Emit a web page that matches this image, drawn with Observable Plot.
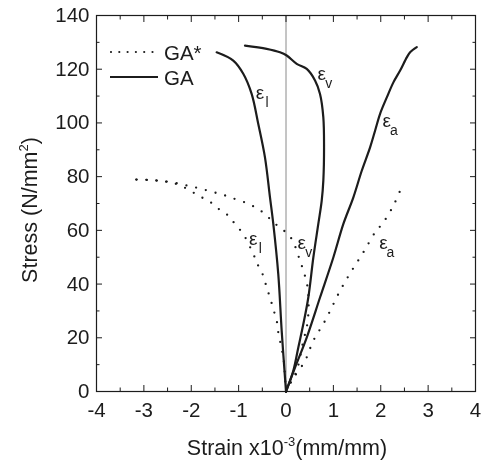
<!DOCTYPE html>
<html>
<head>
<meta charset="utf-8">
<script src="https://cdn.jsdelivr.net/npm/d3@7"></script>
<script src="https://cdn.jsdelivr.net/npm/@observablehq/plot@0.6"></script>
<style>
  html, body { margin: 0; padding: 0; background: #fff; }
  svg { display: block; will-change: transform; }
  text { -webkit-font-smoothing: antialiased; }
</style>
</head>
<body>
<div id="chart"></div>
<script>
// ---- tick labels ----
const xTicks = [-4, -3, -2, -1, 0, 1, 2, 3, 4];
const xMinor = [-3.5, -2.5, -1.5, -0.5, 0.5, 1.5, 2.5, 3.5];
const yTicks = [0, 20, 40, 60, 80, 100, 120, 140];
const yMinor = [10, 30, 50, 70, 90, 110, 130];

// ---- series: [strain x10^-3, stress N/mm^2] ----
// GA (solid)
const gaLateral = [[0,0],[-0.091,22.6],[-0.163,43.7],[-0.268,62.4],[-0.338,72.3],[-0.444,87.2],[-0.585,99.6],[-0.725,110.8],[-0.902,118.3],[-1.113,123.2],[-1.464,126.3]];
const gaVolumetric = [[0,0],[0.154,7.7],[0.260,16.4],[0.366,25.1],[0.471,35.0],[0.577,49.9],[0.682,62.4],[0.754,71.1],[0.788,78.5],[0.803,90.9],[0.788,102.1],[0.718,110.8],[0.613,115.8],[0.438,120.1],[0.226,122.0],[0.015,125.1],[-0.127,126.3],[-0.408,127.6],[-0.866,128.8]];
const gaAxial = [[0,0],[0.190,8.9],[0.437,20.1],[0.718,35.0],[0.999,49.9],[1.211,62.4],[1.422,72.3],[1.599,82.2],[1.775,90.9],[1.880,97.1],[1.986,103.4],[2.128,109.5],[2.267,115.1],[2.409,119.5],[2.550,124.4],[2.620,126.3],[2.761,128.2]];
// GA* (dotted)
const gasLateral = [[0,0],[-0.021,5.2],[-0.042,10.8],[-0.070,13.9],[-0.112,17.7],[-0.163,22.0],[-0.196,26.3],[-0.268,30.7],[-0.338,35.0],[-0.408,38.7],[-0.480,43.1],[-0.585,46.8],[-0.691,51.2],[-0.902,58.6],[-1.078,62.4],[-1.219,65.5],[-1.394,67.6],[-1.570,70.2],[-1.781,72.3],[-1.992,74.4],[-2.240,76.8],[-2.487,78.0],[-2.698,78.5],[-2.943,78.8],[-3.19,78.9]];
const gasVolumetric = [[0,0],[0.120,4.0],[0.226,7.7],[0.296,12.7],[0.366,18.9],[0.437,23.8],[0.471,28.8],[0.471,36.3],[0.437,40.6],[0.366,45.0],[0.296,48.7],[0.120,56.8],[-0.057,60.1],[-0.268,63.0],[-0.444,66.1],[-0.655,68.6],[-0.866,70.4],[-1.113,71.9],[-1.325,73.2],[-1.570,74.4],[-1.817,75.6],[-2.028,76.4],[-2.240,77.3],[-2.487,78.1],[-2.698,78.5],[-2.943,78.8],[-3.19,78.9]];
const gasAxial = [[0,0],[0.120,4.0],[0.401,11.4],[0.577,18.9],[0.824,26.3],[1.141,37.5],[1.388,45.0],[1.633,51.8],[1.880,59.2],[2.056,63.0],[2.267,69.2],[2.445,76.3]];

// curve labels (epsilon with subscript)
const labelX = [-0.549, 0.754, 2.128, -0.691, 0.330, 2.056];
const labelY = [111.3, 118.3, 100.9, 56.8, 55.5, 55.5];
const labelSub = ["l", "v", "a", "l", "v", "a"];

const seriesNames = ["GA", "GA*"];

// ---- build tables ----
function rows(arr, group, name) { return arr.map(([x, y]) => ({group, name, x, y})); }
const solidRows = [
  ...rows(gaLateral, seriesNames[0], "l"),
  ...rows(gaVolumetric, seriesNames[0], "v"),
  ...rows(gaAxial, seriesNames[0], "a")
];
const dottedRows = [
  ...rows(gasLateral, seriesNames[1], "l"),
  ...rows(gasVolumetric, seriesNames[1], "v"),
  ...rows(gasAxial, seriesNames[1], "a")
];
const labels = labelX.map((x, i) => ({x, y: labelY[i], sub: labelSub[i]}));

const ink = "#1c1c1c";
const font = "'Liberation Sans', Arial, Helvetica, sans-serif";

const chart = Plot.plot({
  width: 486,
  height: 462,
  marginLeft: 96,
  marginRight: 11,
  marginTop: 15,
  marginBottom: 71,
  style: {fontFamily: font, color: ink, background: "#fff"},
  x: {domain: [-4, 4], label: null},
  y: {domain: [0, 140], label: null},
  marks: [
    Plot.ruleX([0], {stroke: "#8a8a8a", strokeWidth: 1}),
    // inward ticks: bottom/top/left/right
    Plot.axisX({ticks: xTicks, anchor: "bottom", tickSize: -6, tickFormat: () => "", label: null, stroke: ink}),
    Plot.axisX({ticks: xMinor, anchor: "bottom", tickSize: -3.5, tickFormat: () => "", label: null, stroke: ink}),
    Plot.axisX({ticks: xTicks, anchor: "top", tickSize: -6, tickFormat: () => "", label: null, stroke: ink}),
    Plot.axisX({ticks: xMinor, anchor: "top", tickSize: -3.5, tickFormat: () => "", label: null, stroke: ink}),
    Plot.axisY({ticks: yTicks, anchor: "left", tickSize: -6, tickFormat: () => "", label: null, stroke: ink}),
    Plot.axisY({ticks: yMinor, anchor: "left", tickSize: -3.5, tickFormat: () => "", label: null, stroke: ink}),
    Plot.axisY({ticks: yTicks, anchor: "right", tickSize: -6, tickFormat: () => "", label: null, stroke: ink}),
    Plot.axisY({ticks: yMinor, anchor: "right", tickSize: -3.5, tickFormat: () => "", label: null, stroke: ink}),
    // tick labels
    Plot.axisX({ticks: xTicks, anchor: "bottom", tickSize: 0, tickPadding: 11, fontSize: 20.5, label: null, fill: ink, tickFormat: d => String(d).replace("−", "-")}),
    Plot.axisY({ticks: yTicks, anchor: "left", tickSize: 0, tickPadding: 7, fontSize: 20.5, label: null, fill: ink, tickFormat: d => String(d)}),
    Plot.frame({stroke: ink, strokeWidth: 1.2}),
    // data
    Plot.line(solidRows, {x: "x", y: "y", z: "name", stroke: ink, strokeWidth: 2.2, curve: "catmull-rom"}),
    Plot.line(dottedRows, {x: "x", y: "y", z: "name", stroke: ink, strokeWidth: 2.3, strokeDasharray: "0 10", strokeLinecap: "round", curve: "catmull-rom"}),
    // epsilon labels
    Plot.text(labels, {x: "x", y: "y", text: () => "ε", fontSize: 19, fill: ink}),
    Plot.text(labels, {x: "x", y: "y", text: "sub", fontSize: 14, dx: 7, dy: 10, fill: ink})
  ]
});

const svg = d3.select(chart);
svg.attr("font-family", font);

// axis titles with super-scripts
const xt = svg.append("text")
  .attr("x", 287).attr("y", 455)
  .attr("text-anchor", "middle")
  .attr("font-size", 21.5)
  .attr("fill", ink);
xt.append("tspan").text("Strain x10");
xt.append("tspan").attr("font-size", 13).attr("dy", -9).text("-3");
xt.append("tspan").attr("dy", 9).text("(mm/mm)");

const yt = svg.append("text")
  .attr("transform", "translate(37,210) rotate(-90)")
  .attr("text-anchor", "middle")
  .attr("font-size", 21.5)
  .attr("fill", ink);
yt.append("tspan").text("Stress (N/mm");
yt.append("tspan").attr("font-size", 13).attr("dy", -9).text("2");
yt.append("tspan").attr("dy", 9).text(")");

// legend (inside frame, top-left)
const lg = svg.append("g").attr("fill", "none");
lg.append("line").attr("x1", 111).attr("x2", 158).attr("y1", 52).attr("y2", 52)
  .attr("stroke", ink).attr("stroke-width", 2.2).attr("stroke-dasharray", "0 8.3").attr("stroke-linecap", "round");
lg.append("line").attr("x1", 110).attr("x2", 158).attr("y1", 77).attr("y2", 77)
  .attr("stroke", ink).attr("stroke-width", 2.2);
svg.append("text").attr("x", 164).attr("y", 59.5).attr("text-anchor", "start").attr("font-size", 20.5).attr("fill", ink).text(seriesNames[1]);
svg.append("text").attr("x", 164).attr("y", 84.5).attr("text-anchor", "start").attr("font-size", 20.5).attr("fill", ink).text(seriesNames[0]);

document.getElementById("chart").appendChild(chart);
</script>
</body>
</html>
